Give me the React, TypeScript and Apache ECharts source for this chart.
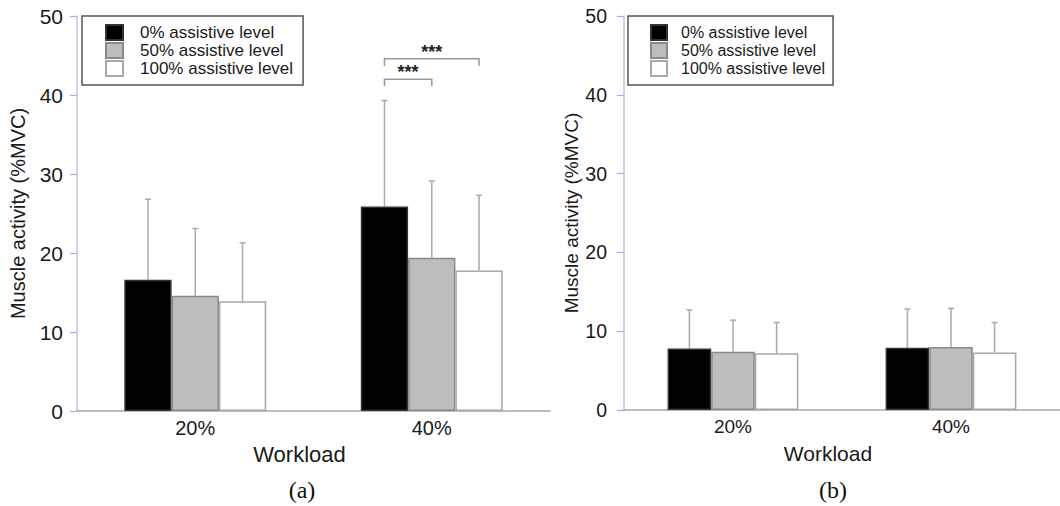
import React, { useEffect, useRef } from "react";
import * as echarts from "echarts";

const categories = ["20%", "40%"];
const levels = ["0% assistive level", "50% assistive level", "100% assistive level"];

// Panel (a) means and SDs
const a0 = [16.6, 25.9];
const a50 = [14.6, 19.4];
const a100 = [13.9, 17.8];
const a0Sd = [10.2, 13.4];
const a50Sd = [8.5, 9.7];
const a100Sd = [7.4, 9.5];

// Panel (b) means and SDs
const b0 = [7.8, 7.9];
const b50 = [7.4, 8.0];
const b100 = [7.2, 7.3];
const b0Sd = [4.9, 4.9];
const b50Sd = [4.0, 4.9];
const b100Sd = [3.9, 3.8];

// significance brackets (panel a): [category, fromBar, toBar, bracketValue]
const sigBrackets = [
  [1, 0, 1, 42.0],
  [1, 0, 2, 44.6],
];
const sigLabels = ["***", "***"];

const yTicks = [0, 10, 20, 30, 40, 50];

const fills = ["#000000", "#bdbdbd", "#ffffff"];
const borders = ["#333333", "#8a8a8a", "#a8a8a8"];

function errData(means: number[][], sds: number[][]) {
  const out: number[][] = [];
  means.forEach((m, k) => m.forEach((v, c) => out.push([c, v, sds[k][c], k])));
  return out;
}

export default function App() {
  const ref = useRef<HTMLDivElement>(null);
  useEffect(() => {
    const chart = echarts.init(ref.current!, null, { renderer: "svg" });
    const sans = "'Liberation Sans', Arial, sans-serif";
    const yAxisBase = (idx: number, fs: number, nfs: number, gap: number, margin: number) => ({
      type: "value",
      gridIndex: idx,
      min: yTicks[0],
      max: yTicks[yTicks.length - 1],
      interval: 10,
      splitLine: { show: false },
      axisLine: { show: true, lineStyle: { color: "#c6c6d6", width: 1.5 } },
      axisTick: { show: true, length: 7, lineStyle: { color: "#a8a8f0", width: 1.2 } },
      axisLabel: { fontSize: fs, color: "#1a1a1a", fontFamily: sans, margin },
      name: "Muscle activity (%MVC)",
      nameLocation: "middle",
      nameGap: gap,
      nameTextStyle: { fontSize: nfs, color: "#1a1a1a", fontFamily: sans },
    });
    const xAxisBase = (idx: number, fs: number, nfs: number, gap: number) => ({
      type: "category",
      gridIndex: idx,
      data: categories,
      axisLine: { show: true, lineStyle: { color: "#a8a8a8", width: 1.5 } },
      axisTick: { show: false },
      axisLabel: { fontSize: fs, color: "#1a1a1a", fontFamily: sans, margin: 7 },
      name: "Workload",
      nameLocation: "middle",
      nameGap: gap,
      nameTextStyle: { fontSize: nfs, color: "#1a1a1a", fontFamily: sans, padding: [0, 28, 0, 0] },
    });
    const barSeries = (idx: number, arrs: number[][]) =>
      arrs.map((d, k) => ({
        type: "bar",
        name: levels[k],
        xAxisIndex: idx,
        yAxisIndex: idx,
        data: d,
        barGap: "0%",
        barCategoryGap: "40%",
        z: 3,
        itemStyle: { color: fills[k], borderColor: borders[k], borderWidth: 1.5 },
      }));
    const errSeries = (idx: number, data: number[][]) => ({
      type: "custom",
      xAxisIndex: idx,
      yAxisIndex: idx,
      z: 1,
      data,
      encode: { x: 0, y: 1 },
      renderItem: (params: any, api: any) => {
        const c = api.value(0);
        const m = api.value(1);
        const sd = api.value(2);
        const k = api.value(3);
        const band = api.size([1, 0])[0];
        const p0 = api.coord([c, m]);
        const p1 = api.coord([c, m + sd]);
        const x = p0[0] + (k - 1) * band * 0.2;
        const st = { stroke: "#aaaaaa", lineWidth: 1.5 };
        return {
          type: "group",
          children: [
            { type: "line", shape: { x1: x, y1: p0[1], x2: x, y2: p1[1] }, style: st },
            { type: "line", shape: { x1: x - 3, y1: p1[1], x2: x + 3, y2: p1[1] }, style: st },
          ],
        };
      },
    });
    const legendBase = (left: number, fs: number, pad: number[], tpad: number, iw: number) => ({
      orient: "vertical",
      left,
      top: 16,
      padding: pad,
      icon: "rect",
      itemWidth: iw,
      itemHeight: 15,
      itemGap: 1,
      borderColor: "#555",
      borderWidth: 1.5,
      data: levels,
      selectedMode: false,
      textStyle: { fontSize: fs, lineHeight: 15, color: "#1a1a1a", fontFamily: sans, padding: [0, 0, 0, tpad] },
    });

    const serif = "'Liberation Serif', 'Times New Roman', serif";
    const option: any = {
      animation: false,
      backgroundColor: "#ffffff",
      title: [
        {
          text: "(a)",
          left: 302,
          top: 478,
          textAlign: "center",
          padding: 0,
          textStyle: { fontSize: 24, fontWeight: "normal", color: "#111", fontFamily: serif },
        },
        {
          text: "(b)",
          left: 833,
          top: 478,
          textAlign: "center",
          padding: 0,
          textStyle: { fontSize: 24, fontWeight: "normal", color: "#111", fontFamily: serif },
        },
      ],
      legend: [legendBase(82, 17, [8, 10, 8, 23], 12, 17), legendBase(628, 16, [8, 8, 8, 22], 9, 16)],
      grid: [
        { left: 77, top: 16, width: 473, height: 395 },
        { left: 624, top: 16, width: 436, height: 394 },
      ],
      xAxis: [xAxisBase(0, 20, 22, 32), xAxisBase(1, 19, 21, 33)],
      yAxis: [yAxisBase(0, 21, 20, 49, 14), yAxisBase(1, 19.5, 19, 43, 17)],
      series: [
        ...barSeries(0, [a0, a50, a100]),
        ...barSeries(1, [b0, b50, b100]),
        errSeries(0, errData([a0, a50, a100], [a0Sd, a50Sd, a100Sd])),
        errSeries(1, errData([b0, b50, b100], [b0Sd, b50Sd, b100Sd])),
        {
          type: "custom",
          xAxisIndex: 0,
          yAxisIndex: 0,
          z: 4,
          data: sigBrackets,
          encode: { x: 0, y: 3 },
          renderItem: (params: any, api: any) => {
            const c = api.value(0);
            const from = api.value(1);
            const to = api.value(2);
            const v = api.value(3);
            const band = api.size([1, 0])[0];
            const p = api.coord([c, v]);
            const x1 = p[0] + (from - 1) * band * 0.2;
            const x2 = p[0] + (to - 1) * band * 0.2;
            const y = p[1];
            return {
              type: "group",
              children: [
                {
                  type: "polyline",
                  shape: { points: [[x1, y + 7], [x1, y], [x2, y], [x2, y + 7]] },
                  style: { stroke: "#9a9a9a", lineWidth: 1.5, fill: "none" },
                },
                {
                  type: "text",
                  x: (x1 + x2) / 2,
                  y: y + 2,
                  style: {
                    text: sigLabels[params.dataIndex],
                    fontSize: 18,
                    fontWeight: "bold",
                    fill: "#222",
                    align: "center",
                    verticalAlign: "bottom",
                    fontFamily: sans,
                  },
                },
              ],
            };
          },
        },
      ],
    };
    chart.setOption(option);
    return () => chart.dispose();
  }, []);
  return <div ref={ref} style={{ position: "fixed", left: 0, top: 0, width: 1060, height: 506 }} />;
}
